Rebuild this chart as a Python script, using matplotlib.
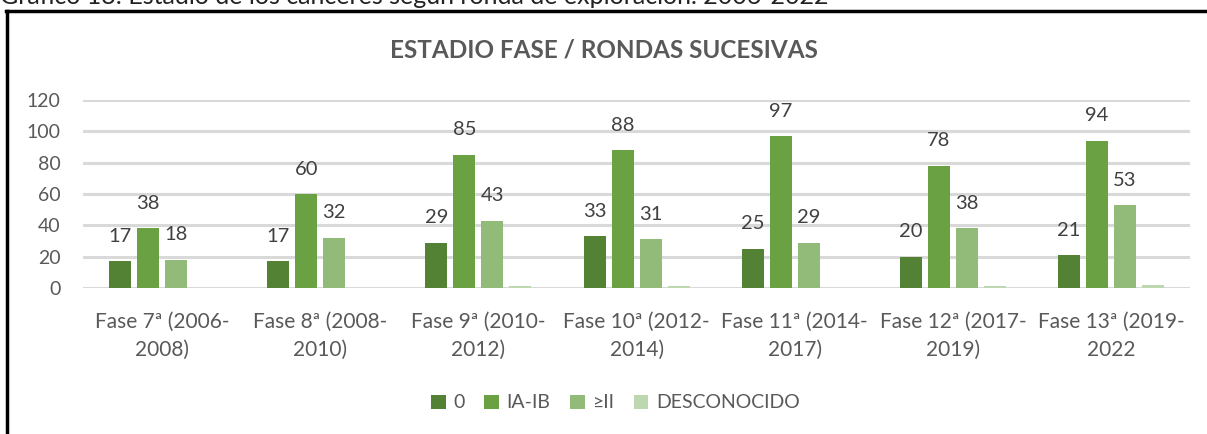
import numpy as np
import matplotlib.pyplot as plt
from matplotlib.lines import Line2D

plt.rcParams['font.family'] = ['Lato', 'DejaVu Sans']

fases = ['Fase 7ª (2006-\n2008)', 'Fase 8ª (2008-\n2010)', 'Fase 9ª (2010-\n2012)',
         'Fase 10ª (2012-\n2014)', 'Fase 11ª (2014-\n2017)', 'Fase 12ª (2017-\n2019)',
         'Fase 13ª (2019-\n2022']
estadio_0 = [17, 17, 29, 33, 25, 20, 21]
estadio_ia_ib = [38, 60, 85, 88, 97, 78, 94]
estadio_ii = [18, 32, 43, 31, 29, 38, 53]
desconocido = [0, 0, 1, 1, 0, 1, 2]

series = [('0', estadio_0, '#548235', True),
          ('IA-IB', estadio_ia_ib, '#6AA142', True),
          ('≥II', estadio_ii, '#92BB7A', True),
          ('DESCONOCIDO', desconocido, '#BDD7B0', False)]

fig = plt.figure(figsize=(12.07, 4.34), dpi=100)
ax = fig.add_axes([0.0688, 0.3364, 0.9172, 0.4332])

x = np.arange(len(fases))
pitch = 0.177
width = 0.139
for i, (name, vals, col, lab) in enumerate(series):
    pos = x + (i - 1.5) * pitch
    ax.bar(pos, vals, width, color=col, label=name, zorder=3)
    if lab:
        for p, v in zip(pos, vals):
            ax.annotate(str(v), (p, v), xytext=(0, 14), textcoords='offset points',
                        ha='center', va='baseline', fontsize=14.5, color='#404040')

ax.set_xlim(-0.5, len(fases) - 0.5)
ax.set_ylim(0, 120)
ax.set_yticks(range(0, 121, 20))
ax.yaxis.grid(True, color='#D9D9D9', linewidth=2.2, zorder=0)
ax.set_axisbelow(True)
for s in ax.spines.values():
    s.set_visible(False)
ax.set_xticks(x)
ax.set_xticklabels(fases, fontsize=15, color='#595959', linespacing=1.5)
ax.tick_params(axis='x', length=0, pad=17)
ax.tick_params(axis='y', length=0, pad=16, labelsize=14, labelcolor='#595959')

fig.text(0.5, 1 - 50 / 434, 'ESTADIO FASE / RONDAS SUCESIVAS', ha='center', va='center',
         fontsize=17.5, color='#595959', fontweight='bold')

fig.legend(loc='center', bbox_to_anchor=(0.51, 1 - 403 / 434), ncol=4, frameon=False,
           fontsize=14, labelcolor='#595959', handlelength=0.75, handleheight=0.75,
           handletextpad=0.4, columnspacing=1.0)

# caption cut at top and chart border
fig.text(0.0, 1 - 4 / 434, 'Gráfico 13: Estadio de los cánceres según ronda de exploración. 2006-2022',
         ha='left', va='baseline', fontsize=18, color='#222222')
fig.add_artist(Line2D([5.5 / 1207, 1.0], [1 - 11 / 434, 1 - 11 / 434], color='black', lw=2.5))
fig.add_artist(Line2D([7 / 1207, 7 / 1207], [0, 1 - 11 / 434], color='black', lw=2.5))

fig.savefig('out.png', dpi=100)
